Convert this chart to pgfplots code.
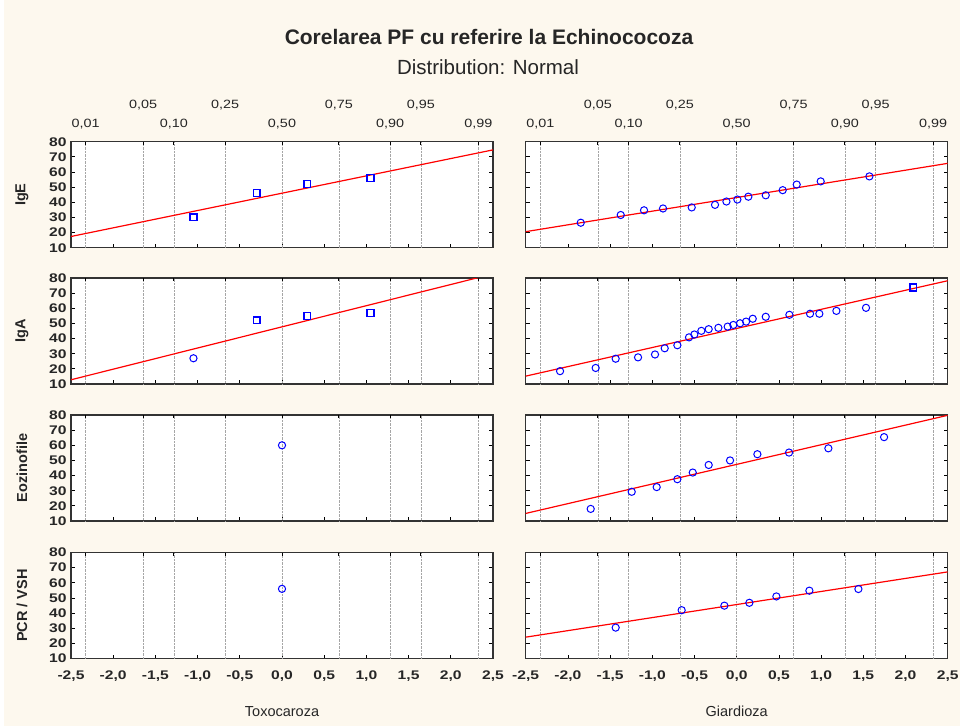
\documentclass[border=0pt]{standalone}
\usepackage{fontspec}
\setmainfont{Liberation Sans}
\newfontfamily\tickfont{Liberation Sans}[FakeStretch=1.2]
\newfontfamily\btickfont{Liberation Sans Bold}[FakeStretch=1.25]
\usepackage{pgfplots}
\pgfplotsset{compat=1.18}
\definecolor{bgcream}{HTML}{FDF8EE}
\definecolor{mblue}{HTML}{0000FF}
\definecolor{lred}{HTML}{FF0000}

\pgfplotsset{
  panel/.style={
    scale only axis, width=422pt, height=106pt,
    xmin=-2.5, xmax=2.5, ymin=10, ymax=80,
    axis background/.style={fill=white},
    axis line style={black!80, line width=1.2pt},
    tick align=inside,
    xtick={-2.5,-2,-1.5,-1,-0.5,0,0.5,1,1.5,2,2.5},
    xtick pos=bottom,
    ytick={10,20,30,40,50,60,70,80},
    ytick pos=both, yticklabel pos=left,
    major tick length=4pt,
    tick style={black, line width=0.8pt},
    xticklabels={},
    tick label style={font=\fontsize{12.5}{13}\btickfont, text=black!85},
    xticklabel style={yshift=-9pt},
    yticklabel style={xshift=-1pt},
    /pgf/number format/assume math mode=true,
    extra x ticks={-2.326,-1.645,-1.2816,-0.674,0,0.674,1.2816,1.645,2.326},
    extra x tick labels={},
    extra x tick style={grid=major, major grid style={densely dotted, black!35, line width=0.6pt}, xtick pos=top, major tick length=3pt},
    ylabel style={font=\fontsize{14.5}{15}\selectfont\bfseries, at={(axis description cs:0,0.5)}, anchor=center, yshift=49pt, text=black!85},
    xlabel style={font=\fontsize{14.5}{15}\selectfont, at={(axis description cs:0.5,0)}, anchor=center, yshift=-53pt, text=black!85},
    clip mode=individual,
  },
  leftcol/.style={panel, yticklabels={10,20,30,40,50,60,70,80}},
  rightcol/.style={panel, yticklabels={}},
  bottomrow/.style={xticklabels={{-2,5},{-2,0},{-1,5},{-1,0},{-0,5},{0,0},{0,5},{1,0},{1,5},{2,0},{2,5}}},
  pts/.style={only marks, color=mblue, mark=o, mark size=3.6pt, mark options={draw=mblue, fill=none, line width=1pt}},
  sqpts/.style={only marks, color=mblue, mark=square, mark size=3.4pt, mark options={draw=mblue, fill=none, line width=1.3pt}},
  fit/.style={lred, line width=1.2pt, no marks},
  toplabels/.style={
    after end axis/.append code={
      \foreach \z/\t in {-1.645/{0,05},-0.674/{0,25},0.674/{0,75},1.645/{0,95}}
        {\node[font=\fontsize{12}{13}\tickfont, text=black!85, anchor=center] at (axis cs:\z,80) [yshift=37pt] {\t};}
      \foreach \z/\t in {-2.326/{0,01},-1.2816/{0,10},0/{0,50},1.2816/{0,90},2.326/{0,99}}
        {\node[font=\fontsize{12}{13}\tickfont, text=black!85, anchor=center] at (axis cs:\z,80) [yshift=18pt] {\t};}
    }
  },
}

\begin{document}
\begin{tikzpicture}
\path[use as bounding box] (0pt,0pt) rectangle (960pt,-726pt);
\fill[bgcream] (0pt,0pt) rectangle (960pt,-726pt);
\fill[white] (0pt,0pt) rectangle (4pt,-726pt);

\node[font=\fontsize{21}{24}\selectfont\bfseries, text=black!85] at (489pt,-36.7pt) {Corelarea PF cu referire la Echinococoza};
\node[font=\fontsize{20.5}{24}\selectfont, text=black!85] at (488pt,-66.7pt) {Distribution: Normal};

% ---------- Row 1: IgE ----------
\begin{axis}[leftcol, toplabels, at={(71pt,-141.7pt)}, anchor=north west, ylabel={IgE}]
\addplot[fit] coordinates {(-2.5,17.4) (2.5,74.6)};
\addplot[sqpts] coordinates {(-1.049,30) (-0.300,46) (0.300,52) (1.049,56)};
\end{axis}
\begin{axis}[rightcol, toplabels, at={(525.7pt,-141.7pt)}, anchor=north west]
\addplot[fit] coordinates {(-2.5,20.6) (2.5,65.7)};
\addplot[pts] coordinates {
(-1.848,26.5) (-1.374,31.6) (-1.098,34.7) (-0.873,35.9) (-0.533,36.6)
(-0.257,38.3) (-0.122,40.5) (0.008,41.8) (0.138,43.7) (0.344,44.6)
(0.545,48.0) (0.711,51.7) (0.995,53.8) (1.572,57.1)};
\end{axis}

% ---------- Row 2: IgA ----------
\begin{axis}[leftcol, at={(71pt,-278pt)}, anchor=north west, ylabel={IgA}]
\addplot[fit] coordinates {(-2.5,12.8) (2.5,82.7)};
\addplot[pts] coordinates {(-1.049,27)};
\addplot[sqpts] coordinates {(-0.300,52) (0.300,55) (1.049,57)};
\end{axis}
\begin{axis}[rightcol, at={(525.7pt,-278pt)}, anchor=north west]
\addplot[fit] coordinates {(-2.5,15.2) (2.5,78.2)};
\addplot[pts] coordinates {
(-2.093,18.5) (-1.671,20.6) (-1.434,26.7) (-1.169,27.6) (-0.968,29.5)
(-0.853,33.6) (-0.703,35.6) (-0.565,40.8) (-0.502,42.7) (-0.419,45.1)
(-0.332,46.2) (-0.217,47.1) (-0.107,47.9) (-0.040,49.0) (0.040,50.1)
(0.111,51.2) (0.190,53.1) (0.344,54.4) (0.624,55.7) (0.869,56.4)
(0.979,56.4) (1.181,58.3) (1.532,60.3)};
\addplot[sqpts] coordinates {(2.093,73.7)};
\end{axis}

% ---------- Row 3: Eozinofile ----------
\begin{axis}[leftcol, at={(71pt,-415pt)}, anchor=north west, ylabel={Eozinofile}]
\addplot[pts] coordinates {(0,60)};
\end{axis}
\begin{axis}[rightcol, at={(525.7pt,-415pt)}, anchor=north west]
\addplot[fit] coordinates {(-2.5,15.0) (2.5,79.8)};
\addplot[pts] coordinates {
(-1.730,18.0) (-1.244,29.3) (-0.948,32.4) (-0.703,37.6) (-0.521,42.0)
(-0.332,47.0) (-0.079,50.0) (0.245,54.1) (0.620,55.2) (1.086,58.0)
(1.746,65.4)};
\end{axis}

% ---------- Row 4: PCR / VSH ----------
\begin{axis}[leftcol, bottomrow, at={(71pt,-552.5pt)}, anchor=north west, ylabel={PCR / VSH}, xlabel={Toxocaroza}]
\addplot[pts] coordinates {(0,56)};
\end{axis}
\begin{axis}[rightcol, bottomrow, at={(525.7pt,-552.5pt)}, anchor=north west, xlabel={Giardioza}]
\addplot[fit] coordinates {(-2.5,24.1) (2.5,67.2)};
\addplot[pts] coordinates {
(-1.434,30.4) (-0.652,41.9) (-0.146,44.9) (0.150,46.8) (0.470,51.0)
(0.861,54.8) (1.442,55.9)};
\end{axis}
\end{tikzpicture}
\end{document}
